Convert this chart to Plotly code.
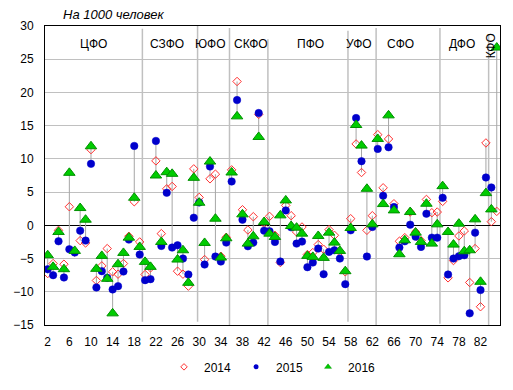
import plotly.graph_objects as go

# Region index (position on x axis)
regions = list(range(2, 86))

v2014 = [-7.25, -5.75, -0.75, -5.85, 2.8, -4.0, -2.3, -2.65, 11.4, -8.3,
         -6.1, -3.5, -7.0, -7.35, -5.75, -1.65, 3.55, -2.5, -7.4, -6.4,
         9.7, -1.25, 5.5, 5.85, -6.9, -7.35, -9.15, 8.5, 4.2, -5.15,
         7.0, 7.7, -4.65, -1.8, 8.35, 21.65, 2.35, -0.7, 1.3, 16.7,
         0.3, 1.35, -1.5, -5.6, 3.0, 1.45, -1.0, -0.25, -4.4, -4.1,
         -2.9, -3.6, -0.65, -1.5, -4.0, -7.0, 1.0, 12.25, 7.95, -0.75,
         1.45, 13.65, 5.65, 13.0, 3.25, -2.4, -1.85, 2.0, -1.0, -2.3,
         3.9, 1.9, 2.0, 3.6, -7.9, -5.3, -1.6, -0.85, -8.6, -3.5,
         -12.25, 12.4, 0.55, 2.1]
v2015 = [-6.6, -7.5, -2.4, -7.85, -3.6, -4.1, -0.8, -2.3, 9.25, -9.35,
         -6.9, -7.9, -9.65, -9.15, -6.95, -2.15, 11.95, -4.4, -8.25, -8.1,
         12.7, -3.1, 4.9, -3.35, -3.0, -5.0, -7.4, 1.15, 3.45, -5.9,
         8.85, -4.7, -5.45, -2.6, 6.6, 18.85, 0.85, -3.15, -2.6, 16.9,
         -0.8, -0.9, -2.5, -5.45, 2.25, -0.3, -2.75, -2.45, -6.3, -5.6,
         -3.5, -7.35, -4.0, -3.75, -5.0, -8.85, -0.75, 16.15, 9.65, -4.7,
         -0.25, 11.5, 4.45, 11.75, 2.75, -3.35, -2.4, 0.1, -1.7, -3.25,
         1.75, -1.85, -1.85, 4.15, -7.4, -5.0, -4.65, -4.5, -13.25, -1.1,
         -9.75, 7.2, 5.7, None]
v2016 = [-4.5, -6.25, -1.0, -6.6, 7.9, -3.85, 2.6, 0.85, 11.9, -6.55,
         -4.6, -8.05, -13.25, -5.85, -4.15, -1.85, 4.15, -3.25, -5.5, -6.25,
         7.5, -2.5, 8.0, 7.75, -5.15, -3.75, -8.65, 7.15, 3.4, -2.65,
         9.6, 1.0, -4.85, -1.95, 7.95, 16.4, 1.65, -2.75, -1.65, 13.3,
         0.5, -1.25, -1.75, 1.5, 3.75, -0.1, -0.35, -1.25, -4.6, -4.75,
         -1.6, -4.9, -1.1, -2.6, -3.85, -6.9, -0.4, 15.1, 12.0, 5.5,
         0.15, 13.0, 3.2, 16.55, 2.25, -4.35, -2.25, 2.0, -1.1, -2.5,
         3.25, -2.75, 0.15, 5.9, -1.0, -2.9, 0.25, -3.9, -3.75, 0.9,
         -8.5, 4.85, 2.4, 26.75]

series_names = ["2014", "2015", "2016"]

district_names = ["ЦФО", "СЗФО", "ЮФО", "СКФО", "ПФО", "УФО", "СФО", "ДФО", "КФО"]
district_label_x = [10.4, 24.0, 32.05, 39.5, 50.5, 59.5, 67.15, 78.6, 84.0]
district_bounds = [19.5, 29.7, 35.6, 42.7, 57.5, 62.7, 74.5, 83.5]
bound_top = [29.6, 30.0, 29.7, 28.0, 29.3, 29.7, 29.7, 28.8]
bound_bottom = [-14.5, -14.5, -15, -15, -14.5, -15, -14.8, -15]

title_text = "На 1000 человек"
xticks = list(range(2, 83, 4))
yticks = list(range(-15, 31, 5))

FONT = "Liberation Sans, Arial, sans-serif"

fig = go.Figure()

# high-low (drop) lines
lx, ly = [], []
for x, a, b, c in zip(regions, v2014, v2015, v2016):
    vals = [v for v in (a, b, c) if v is not None]
    lx += [x, x, None]
    ly += [min(vals), max(vals), None]
fig.add_trace(go.Scatter(x=lx, y=ly, mode="lines", line=dict(color="#a6a6a6", width=1),
                         hoverinfo="skip", showlegend=False))

styles = [
    dict(symbol="diamond-open", size=6.5, color="#ff3030", line=dict(color="#ff3030", width=1)),
    dict(symbol="circle", size=7.5, color="#0000cc", line=dict(color="#0000cc", width=0.5)),
    dict(symbol="triangle-up", size=10, color="#00cc00", line=dict(color="#009000", width=1)),
]
legend_styles = [
    dict(symbol="diamond-open", size=5, color="#ff3030", line=dict(color="#ff3030", width=1)),
    dict(symbol="circle", size=5, color="#0000cc"),
    dict(symbol="triangle-up", size=6, color="#00cc00", line=dict(color="#009000", width=0.5)),
]
for name, vals, st, lst in zip(series_names, [v2014, v2015, v2016], styles, legend_styles):
    fig.add_trace(go.Scatter(x=regions, y=vals, mode="markers", marker=st, name=name,
                             showlegend=False))
    fig.add_trace(go.Scatter(x=[None], y=[None], mode="markers", marker=lst, name=name,
                             showlegend=True))

shapes = []
for bx, t, b in zip(district_bounds, bound_top, bound_bottom):
    shapes.append(dict(type="line", xref="x", yref="y", x0=bx, x1=bx, y0=b, y1=t,
                       line=dict(color="#c0c0c0", width=1.5), layer="below"))

annotations = [dict(text=title_text, xref="paper", yref="paper", x=0.035, y=1.04,
                    xanchor="left", yanchor="middle", showarrow=False,
                    font=dict(family=FONT, size=13, color="black", style="italic"))]
for name, x in zip(district_names, district_label_x):
    ann = dict(text=name, xref="x", yref="y", x=x, y=27.3, showarrow=False,
               xanchor="center", yanchor="middle",
               font=dict(family=FONT, size=12, color="black"))
    if name == "КФО":
        ann["textangle"] = -90
        ann["y"] = 27.0
    annotations.append(ann)

fig.update_layout(
    width=513, height=390,
    margin=dict(l=45, r=13, t=26, b=65, autoexpand=False),
    paper_bgcolor="white", plot_bgcolor="white",
    font=dict(family=FONT, size=12, color="black"),
    shapes=shapes, annotations=annotations,
    legend=dict(orientation="h", x=0.5, xanchor="center", y=-0.14, yanchor="middle",
                font=dict(family=FONT, size=12, color="black"), itemwidth=30,
                tracegroupgap=0),
    xaxis=dict(range=[1.5, 85.6], tickvals=xticks, showgrid=False, zeroline=False,
               showline=True, linecolor="black", linewidth=1, mirror=True,
               ticks="", ticklabelstandoff=6, tickfont=dict(size=12), automargin=False),
    yaxis=dict(range=[-15, 30], tickvals=yticks, showgrid=True, gridcolor="#c0c0c0",
               gridwidth=1, zeroline=True, zerolinecolor="black", zerolinewidth=1,
               showline=True, linecolor="black", linewidth=1, mirror=True,
               ticks="", ticklabelstandoff=8, tickfont=dict(size=12), automargin=False),
)

fig.write_html("out.html", config={"displayModeBar": False},
               post_script="document.body.style.margin='0px';")
